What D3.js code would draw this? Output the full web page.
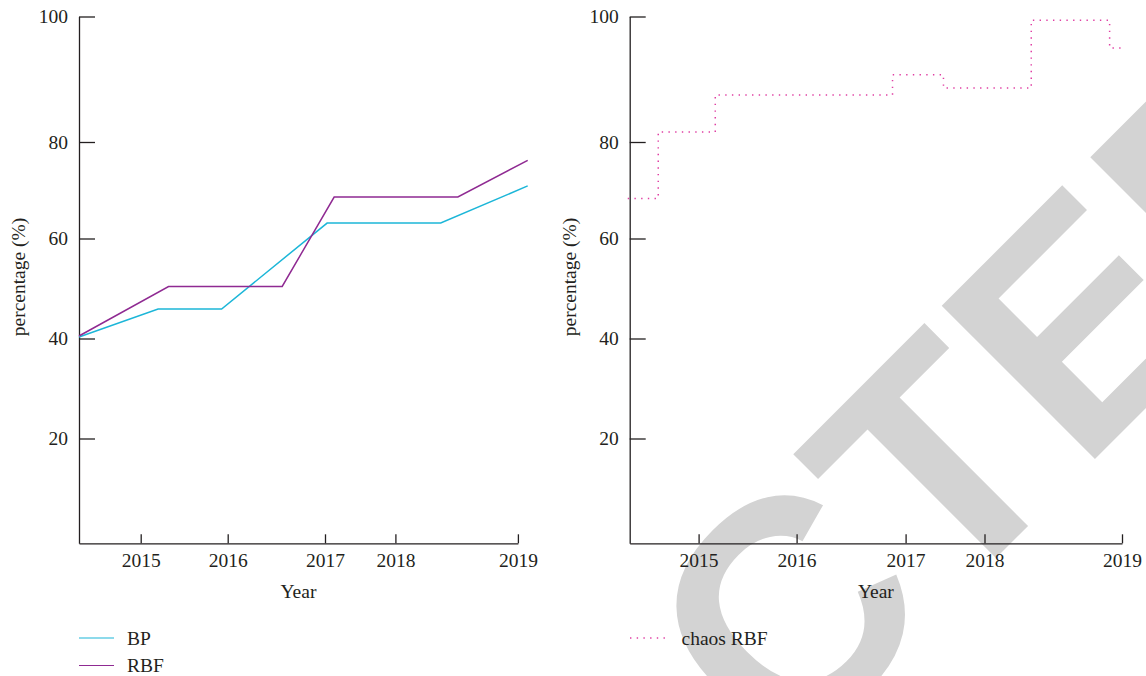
<!DOCTYPE html>
<html>
<head>
<meta charset="utf-8">
<script src="https://cdn.jsdelivr.net/npm/d3@7"></script>
<style>
  body { margin: 0; background: #fff; }
  svg { display: block; font-family: "Liberation Serif", "DejaVu Serif", serif; }
  .axis path, .axis line { stroke: #231f20; stroke-width: 1.3; }
  .axis text { fill: #231f20; font-size: 19.5px; font-family: "Liberation Serif", serif; }
  .label { fill: #231f20; font-size: 19.5px; }
</style>
</head>
<body>
<div id="chart"></div>
<script>
(function() {
  // ticks printed on the axes
  var yearTicks = [2014.3, 2015, 2016, 2017, 2018, 2019]
  var pctTicks = [0, 20, 40, 60, 80, 100]

  // left panel
  var bpYears = [2014.3, 2015.2, 2015.93, 2017.03, 2018.37, 2019.08]
  var bpValues = [40.3, 45.9, 45.9, 63.2, 63.2, 70.9]
  var rbfYears = [2014.3, 2015.32, 2016.56, 2017.13, 2018.51, 2019.08]
  var rbfValues = [40.5, 50.4, 50.4, 68.6, 68.6, 76.2]

  // right panel
  var chaosYears = [2014.28, 2014.59, 2015.17, 2016.88, 2017.48, 2018.34, 2018.91, 2019.02]
  var chaosValues = [68.3, 81.6, 87.5, 90.7, 88.6, 99.4, 95.0, 95.0]

  var width = 1146
  var height = 676

  var svg = d3.select('#chart')
    .append('svg')
    .attr('width', width)
    .attr('height', height)

  // watermark sits behind everything
  svg.append('text')
    .attr('transform', 'translate(152,1402) rotate(-45)')
    .attr('font-family', '"Liberation Sans", Arial, sans-serif')
    .attr('font-weight', 'bold')
    .attr('font-size', 315)
    .attr('fill', '#d3d3d3')
    .text('REDACTED')

  // the printed axes are not evenly spaced, so the scales are piecewise
  var yPositionScale = d3.scaleLinear()
    .domain(pctTicks)
    .range([543.3, 438.5, 338.5, 238.5, 142, 16.5])

  var xLeft = d3.scaleLinear()
    .domain(yearTicks)
    .range([79, 140.7, 227.7, 325, 395.4, 517.9])

  var xRight = d3.scaleLinear()
    .domain(yearTicks)
    .range([629.7, 698.6, 796.6, 905.6, 984.5, 1122])

  function zip(xs, ys) {
    return xs.map((x, i) => ({ year: x, value: ys[i] }))
  }

  function drawAxes(xScale) {
    var x0 = xScale.range()[0]
    var x1 = xScale.range()[xScale.range().length - 1]

    var yAxis = d3.axisLeft(yPositionScale)
      .tickValues(pctTicks.slice(1))
      .tickFormat(d3.format('d'))
      .tickSizeInner(-16)
      .tickSizeOuter(0)
      .tickPadding(11)
    svg.append('g')
      .attr('class', 'axis axis-y')
      .attr('transform', 'translate(' + x0 + ',0)')
      .call(yAxis)

    var xAxis = d3.axisBottom(xScale)
      .tickValues(yearTicks.slice(1))
      .tickFormat(d3.format('d'))
      .tickSizeInner(-9)
      .tickSizeOuter(0)
      .tickPadding(10)
    svg.append('g')
      .attr('class', 'axis axis-x')
      .attr('transform', 'translate(0,' + yPositionScale(0) + ')')
      .call(xAxis)

    svg.append('text')
      .attr('class', 'label')
      .attr('text-anchor', 'middle')
      .attr('transform', 'translate(' + (x0 - 54) + ',277) rotate(-90)')
      .text('percentage (%)')

    svg.append('text')
      .attr('class', 'label')
      .attr('text-anchor', 'middle')
      .attr('x', (x0 + x1) / 2)
      .attr('y', 598)
      .text('Year')
  }

  drawAxes(xLeft)
  drawAxes(xRight)

  var lineLeft = d3.line()
    .x(d => xLeft(d.year))
    .y(d => yPositionScale(d.value))

  var lineRight = d3.line()
    .curve(d3.curveStepAfter)
    .x(d => xRight(d.year))
    .y(d => yPositionScale(d.value))

  var series = [
    { name: 'BP', color: '#1cb6d8', data: zip(bpYears, bpValues) },
    { name: 'RBF', color: '#8f2a92', data: zip(rbfYears, rbfValues) }
  ]

  svg.append('g')
    .selectAll('.line')
    .data(series)
    .enter().append('path')
    .attr('class', 'line')
    .attr('fill', 'none')
    .attr('stroke', d => d.color)
    .attr('stroke-width', 1.5)
    .attr('d', d => lineLeft(d.data))

  var chaosColor = '#e03fa3'
  svg.append('path')
    .datum(zip(chaosYears, chaosValues))
    .attr('fill', 'none')
    .attr('stroke', chaosColor)
    .attr('stroke-width', 1.5)
    .attr('stroke-dasharray', '1.4 5.3')
    .attr('d', lineRight)

  // legends
  var legendLeft = svg.append('g')
    .selectAll('.legend')
    .data(series)
    .enter().append('g')
    .attr('class', 'legend')
    .attr('transform', (d, i) => 'translate(79,' + (638 + i * 27.5) + ')')

  legendLeft.append('line')
    .attr('x1', 0)
    .attr('x2', 35)
    .attr('stroke', d => d.color)
    .attr('stroke-width', 1.2)

  legendLeft.append('text')
    .attr('class', 'label')
    .attr('x', 48)
    .attr('y', 6.5)
    .text(d => d.name)

  var legendRight = svg.append('g')
    .attr('transform', 'translate(630,638)')

  legendRight.append('line')
    .attr('x1', 0)
    .attr('x2', 36)
    .attr('stroke', chaosColor)
    .attr('stroke-width', 1.5)
    .attr('stroke-dasharray', '1.4 5.3')

  legendRight.append('text')
    .attr('class', 'label')
    .attr('x', 51.5)
    .attr('y', 7)
    .text('chaos RBF')
})()
</script>
</body>
</html>
